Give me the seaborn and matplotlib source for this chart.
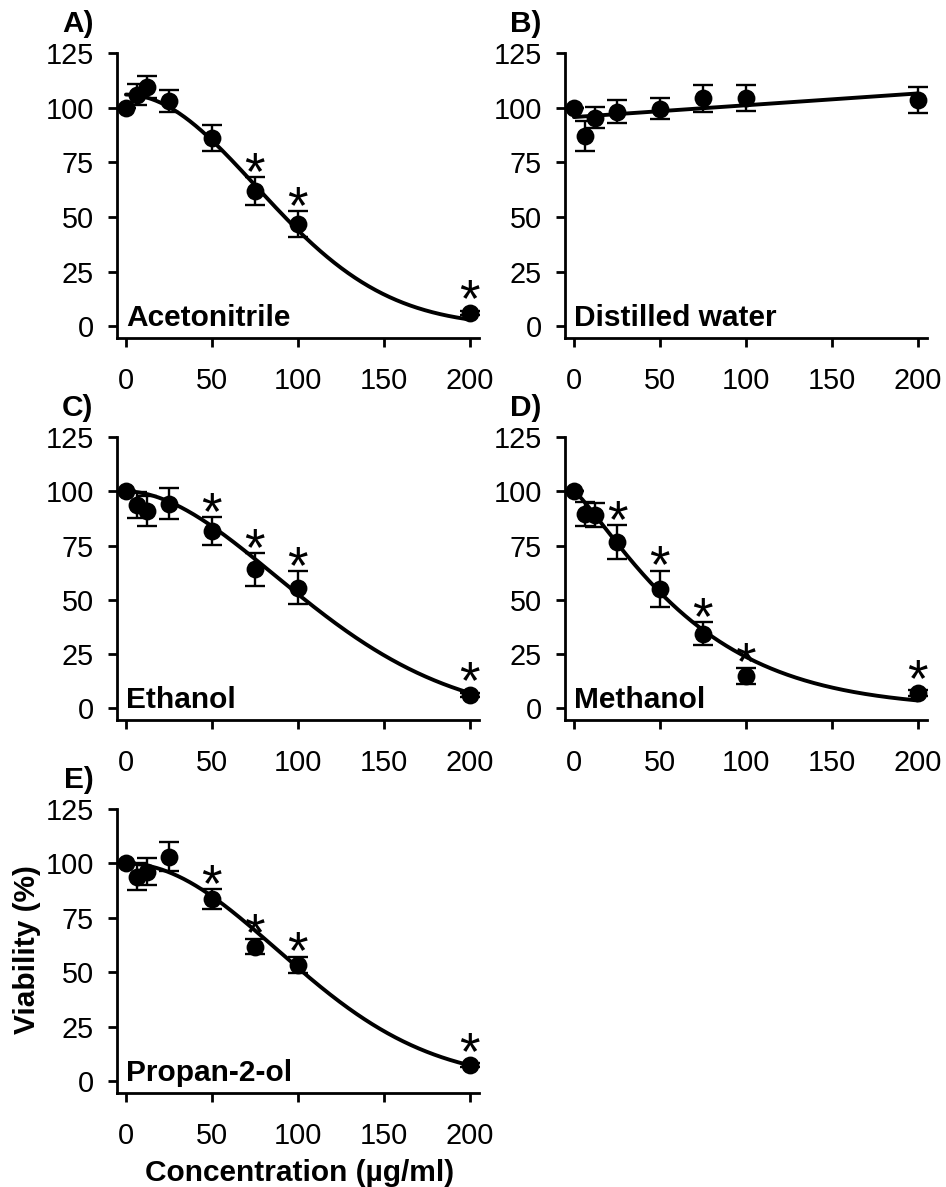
import numpy as np
import pandas as pd
import matplotlib
matplotlib.use("Agg")
import matplotlib.pyplot as plt
import matplotlib.transforms as mtransforms
import seaborn as sns

# ---------------- data ----------------
conc = [0, 6.25, 12.5, 25, 50, 75, 100, 200]

acet_mean = [100, 106, 109.5, 103, 86, 62, 46.8, 6.1]
acet_err = [0, 4.8, 5, 5, 6, 6.3, 6, 1]
acet_star = [0, 0, 0, 0, 0, 1, 1, 1]

water_mean = [100, 87.1, 95.5, 98.1, 99.6, 104.2, 104.4, 103.5]
water_err = [0, 7, 5, 5.2, 5, 6, 6, 6]
water_star = [0, 0, 0, 0, 0, 0, 0, 0]

eth_mean = [100, 93.6, 91, 94.3, 81.7, 64, 55.7, 6.1]
eth_err = [0, 6, 7, 7, 6.5, 7.5, 7.5, 1]
eth_star = [0, 0, 0, 0, 1, 1, 1, 1]

meth_mean = [100, 89.4, 88.9, 76.7, 55.2, 34.5, 14.9, 7.2]
meth_err = [0, 5.5, 5.5, 7.8, 8.3, 5.4, 3.6, 1.5]
meth_star = [0, 0, 0, 1, 1, 1, 1, 1]

prop_mean = [100, 94, 96.3, 103.2, 83.7, 61.8, 53.4, 7.4]
prop_err = [0, 6, 6.3, 6.5, 4.7, 3.5, 3.5, 1]
prop_star = [0, 0, 0, 0, 1, 1, 1, 1]

panel_letters = ["A)", "B)", "C)", "D)", "E)"]
solvents = ["Acetonitrile", "Distilled water", "Ethanol", "Methanol", "Propan-2-ol"]

# fitted curve parameters (estimated from the drawn curves)
# decay model: bottom + (top - bottom) * exp(-(x / scale) ** shape)
fit_top = [106, None, 100, 100, 100]
fit_bottom = [0, None, -5, 0, 0]
fit_scale = [106.7, None, 132, 74, 124]
fit_shape = [2.0, None, 1.85, 1.2, 2.0]
# linear fit for distilled water
water_intercept = 95.7
water_slope = 0.054

xticks = [0, 50, 100, 150, 200]
yticks = [0, 25, 50, 75, 100, 125]

# ---------------- style ----------------
sns.set_theme(style="ticks")
plt.rcParams["font.family"] = ["Liberation Sans", "DejaVu Sans"]
plt.rcParams["axes.linewidth"] = 2.0

W, H = 946, 1187
fig = plt.figure(figsize=(W / 100, H / 100), dpi=100)

def fx(px):
    return px / W

def fy(px):
    return 1 - px / H

col_left = [117, 565]
row_top = [53, 437, 809]
row_bot = [338, 720, 1093]
ax_w = 362
YMIN, YMAX = -5.3, 125

positions = [(0, 0), (1, 0), (0, 1), (1, 1), (0, 2)]
means = [acet_mean, water_mean, eth_mean, meth_mean, prop_mean]
errs = [acet_err, water_err, eth_err, meth_err, prop_err]
stars = [acet_star, water_star, eth_star, meth_star, prop_star]

BOLD = 21.5
TICK = 20.8

axes = []
for i, (c, r) in enumerate(positions):
    left = fx(col_left[c])
    bottom = fy(row_bot[r])
    height_px = row_bot[r] - row_top[r]
    ax = fig.add_axes([left, bottom, ax_w / W, height_px / H])
    axes.append(ax)
    px_per_unit = height_px / (YMAX - YMIN)
    marker_r_units = 8.5 / px_per_unit

    df = pd.DataFrame({"conc": conc, "viab": means[i], "err": errs[i]})

    # fitted curve
    xs = np.linspace(0, 200, 400)
    if fit_top[i] is None:
        ys = water_intercept + water_slope * xs
    else:
        ys = fit_bottom[i] + (fit_top[i] - fit_bottom[i]) * np.exp(-(xs / fit_scale[i]) ** fit_shape[i])
    sns.lineplot(x=xs, y=ys, ax=ax, color="black", linewidth=2.8, zorder=2)

    # error bars
    ax.errorbar(df["conc"], df["viab"], yerr=df["err"], fmt="none",
                ecolor="black", elinewidth=1.7, capsize=7.2, capthick=1.7, zorder=3)
    # points
    sns.scatterplot(data=df, x="conc", y="viab", ax=ax, color="black", s=165,
                    edgecolor="black", linewidth=0, zorder=4)

    # significance stars
    for xv, yv, ev, st in zip(conc, means[i], errs[i], stars[i]):
        if st:
            top = yv + max(ev, marker_r_units)
            ax.annotate("*", xy=(xv, top), xytext=(0, -8.5), textcoords="offset points",
                        ha="center", va="baseline", fontsize=38,
                        color="black", zorder=5)

    ax.set_xlim(-5.2, 205.5)
    ax.set_ylim(YMIN, YMAX)
    ax.set_xticks(xticks)
    ax.set_yticks(yticks)
    ax.tick_params(axis="both", direction="out", length=6.5, width=2.0,
                   labelsize=TICK, colors="black")
    ax.tick_params(axis="x", pad=14.5)
    ax.tick_params(axis="y", pad=10)
    ax.set_xlabel("")
    ax.set_ylabel("")
    sns.despine(ax=ax)
    for sp in ["left", "bottom"]:
        ax.spines[sp].set_linewidth(2.0)
        ax.spines[sp].set_color("black")

    # panel letter
    ax.annotate(panel_letters[i], xy=(0, 1), xycoords="axes fraction",
                xytext=(-17, 15), textcoords="offset points", ha="right",
                va="baseline", fontsize=BOLD, fontweight="bold", color="black")
    # solvent label
    trans = mtransforms.blended_transform_factory(ax.transAxes, ax.transData)
    ax.text(0.025, 0.3, solvents[i], transform=trans, ha="left", va="baseline",
            fontsize=BOLD, fontweight="bold", color="black")

fig.text(fx(27), fy(950), "Viability (%)", rotation=90, ha="center", va="center",
         fontsize=BOLD, fontweight="bold", color="black")
fig.text(fx(300), fy(1173), "Concentration (\u00b5g/ml)", ha="center", va="center",
         fontsize=BOLD, fontweight="bold", color="black")

fig.savefig("out.png", dpi=100, facecolor="white")
